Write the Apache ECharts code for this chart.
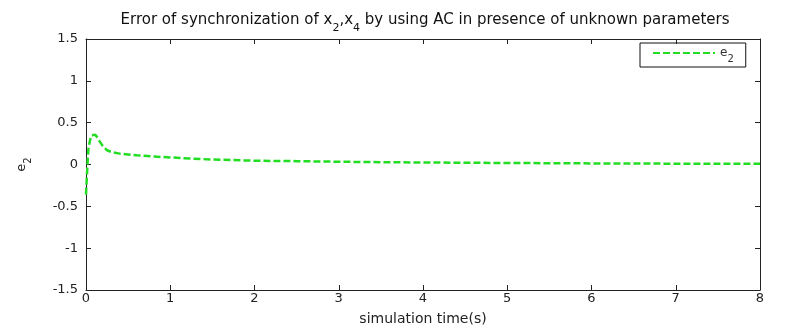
<!DOCTYPE html>
<html>
<head>
<meta charset="utf-8">
<script src="https://cdn.jsdelivr.net/npm/echarts@6/dist/echarts.min.js"></script>
<style>html,body{margin:0;padding:0;background:#fff}#c{width:785px;height:331px}</style>
</head>
<body>
<div id="c"></div>
<script>
var timeS = [0, 0.01, 0.02, 0.03, 0.05, 0.07, 0.09, 0.11, 0.13, 0.16, 0.2, 0.25, 0.3, 0.4, 0.5, 0.6, 0.8, 1.0, 1.25, 1.5, 2.0, 2.5, 3.0, 3.5, 4.0, 5.0, 6.0, 7.0, 8.0];
var e2 = [-0.36, -0.15, 0.05, 0.2, 0.3, 0.35, 0.36, 0.355, 0.33, 0.28, 0.22, 0.17, 0.15, 0.13, 0.12, 0.11, 0.095, 0.085, 0.07, 0.06, 0.045, 0.04, 0.033, 0.028, 0.024, 0.018, 0.013, 0.01, 0.008];
var yTickLabels = {'1.5':'1.5','1':'1','0.5':'0.5','0':'0','-0.5':'-0.5','-1':'-1','-1.5':'-1.5'};

var FONT = 'DejaVu Sans, Verdana, sans-serif';
var AX = '#222';
var chart = echarts.init(document.getElementById('c'), null, {renderer:'canvas'});
var pts = timeS.map(function(t,i){return [t, e2[i]];});
function frameAxis(extra){
  return Object.assign({
    type:'value',
    axisLine:{show:true, onZero:false, lineStyle:{color:AX, width:1}},
    axisTick:{show:true, inside:true, length:5, lineStyle:{color:AX}},
    axisLabel:{show:false}, splitLine:{show:false}
  }, extra);
}
chart.setOption({
  animation:false,
  title:{
    text:'Error of synchronization of x{s|2},x{s|4} by using AC in presence of unknown parameters',
    left:420, textAlign:'center', top:8,
    textStyle:{fontFamily:FONT, fontSize:15, fontWeight:'normal', color:'#111',
      rich:{s:{fontFamily:FONT, fontSize:11, color:'#111', verticalAlign:'bottom', padding:[0,0,-6,0]}}}
  },
  grid:{left:86, right:25, top:39, bottom:29},
  legend:{
    show:true, left:640, top:43, orient:'horizontal',
    borderColor:'#111', borderWidth:1, padding:[4,12,3,12],
    itemWidth:62, itemHeight:12, itemGap:4,
    data:['e2'],
    itemStyle:{opacity:0},
    formatter:function(){return 'e{s|2}';},
    textStyle:{fontFamily:FONT, fontSize:12, color:'#333',
      rich:{s:{fontFamily:FONT, fontSize:10, color:'#333', verticalAlign:'bottom', padding:[0,0,-5,0]}}}
  },
  xAxis:[{
    type:'value', min:0, max:8, interval:1, position:'bottom',
    name:'simulation time(s)', nameLocation:'middle', nameGap:22,
    nameTextStyle:{fontFamily:FONT, fontSize:14, color:'#222'},
    axisLine:{show:true, onZero:false, lineStyle:{color:AX, width:1}},
    axisTick:{show:true, inside:true, length:5, lineStyle:{color:AX}},
    axisLabel:{fontFamily:FONT, fontSize:13, color:'#222', margin:2},
    splitLine:{show:false}
  }, frameAxis({min:0, max:8, interval:1, position:'top'})],
  yAxis:[{
    type:'value', min:-1.5, max:1.5, interval:0.5, position:'left',
    name:'e{s|2}', nameLocation:'middle', nameGap:58, nameRotate:90,
    nameTextStyle:{fontFamily:FONT, fontSize:13, color:'#222',
      rich:{s:{fontFamily:FONT, fontSize:10, color:'#222', verticalAlign:'bottom', padding:[0,0,-5,0]}}},
    axisLine:{show:true, onZero:false, lineStyle:{color:AX, width:1}},
    axisTick:{show:true, inside:true, length:5, lineStyle:{color:AX}},
    axisLabel:{fontFamily:FONT, fontSize:13, color:'#222', margin:8,
      formatter:function(v){var k=String(v);return yTickLabels[k] !== undefined ? yTickLabels[k] : k;}},
    splitLine:{show:false}
  }, frameAxis({min:-1.5, max:1.5, interval:0.5, position:'right'})],
  series:[{
    name:'e2', type:'line', data:pts, showSymbol:false, symbol:'none',
    xAxisIndex:0, yAxisIndex:0,
    lineStyle:{color:'#22dd22', width:2.5, type:[7,3]},
    itemStyle:{color:'#22dd22'}
  }]
});
</script>
</body>
</html>
